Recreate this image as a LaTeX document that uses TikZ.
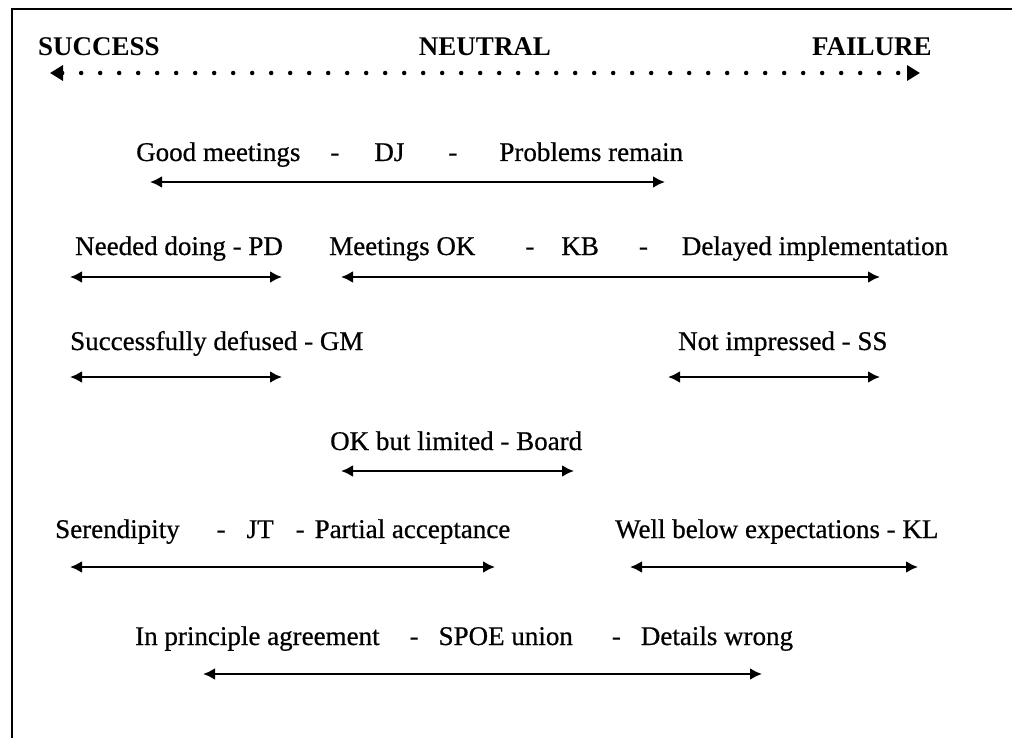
\documentclass[tikz,border=0pt]{standalone}
\usepackage{fontspec}
\setmainfont{Liberation Serif}
\newfontfamily\scanfont[FakeBold=0.6]{Liberation Serif}
\usetikzlibrary{arrows.meta}

\tikzset{
  lbl/.style={anchor=base west, inner sep=0pt, font=\scanfont\fontsize{27}{30}\selectfont},
  hdr/.style={anchor=base west, inner sep=0pt, font=\bfseries\fontsize{27}{32}\selectfont},
  spanarrow/.style={{Latex[length=12pt,width=12pt]}-{Latex[length=12pt,width=12pt]}, line width=2.6pt},
  dotscale/.style={{Triangle[length=13pt,width=15pt]}-{Triangle[length=13pt,width=15pt]}, line width=4.5pt,
    line cap=round, dash pattern=on 0pt off 19pt},
}

\begin{document}
\begin{tikzpicture}[x=1pt,y=-1pt]
\useasboundingbox (0,0) rectangle (1012,738);
% frame
\draw[line width=2.5pt] (12,738) -- (12,9) -- (1012,9);

% scale
\node[hdr] (succ) at (38,56) {SUCCESS};
\node[hdr, anchor=base] (neut) at (485,56) {NEUTRAL};
\node[hdr] (fail) at (812,56) {FAILURE};
\coordinate (sl) at (50,73);
\coordinate (sr) at (920,73);
\draw[dotscale] (sl) -- (sr);

% DJ
\node[lbl] (dj) at (136,161) {Good meetings\hspace{30pt}-\hspace{35pt}DJ\hspace{44pt}-\hspace{42pt}Problems remain};
\coordinate (dj-l) at (150,182);
\coordinate (dj-r) at (665,182);
\draw[spanarrow] (dj-l) -- (dj-r);

% PD
\node[lbl] (pd) at (75,255) {Needed doing - PD};
\coordinate (pd-l) at (70,277);
\coordinate (pd-r) at (282,277);
\draw[spanarrow] (pd-l) -- (pd-r);

% KB
\node[lbl] (kb) at (329,255) {Meetings OK\hspace{50pt}-\hspace{27pt}KB\hspace{40pt}-\hspace{34pt}Delayed implementation};
\coordinate (kb-l) at (341,277);
\coordinate (kb-r) at (880,277);
\draw[spanarrow] (kb-l) -- (kb-r);

% GM
\node[lbl] (gm) at (70,350) {Successfully defused - GM};
\coordinate (gm-l) at (70,377);
\coordinate (gm-r) at (282,377);
\draw[spanarrow] (gm-l) -- (gm-r);

% SS
\node[lbl] (ss) at (678,350) {Not impressed - SS};
\coordinate (ss-l) at (668,377);
\coordinate (ss-r) at (880,377);
\draw[spanarrow] (ss-l) -- (ss-r);

% Board
\node[lbl] (brd) at (330,450) {OK but limited - Board};
\coordinate (brd-l) at (341,471);
\coordinate (brd-r) at (574,471);
\draw[spanarrow] (brd-l) -- (brd-r);

% JT
\node[lbl] (jt) at (55,538) {Serendipity\hspace{37pt}-\hspace{21pt}JT\hspace{22pt}-\hspace{10pt}Partial acceptance};
\coordinate (jt-l) at (70,567);
\coordinate (jt-r) at (495,567);
\draw[spanarrow] (jt-l) -- (jt-r);

% KL
\node[lbl] (kl) at (615,538) {Well below expectations - KL};
\coordinate (kl-l) at (630,567);
\coordinate (kl-r) at (918,567);
\draw[spanarrow] (kl-l) -- (kl-r);

% SPOE
\node[lbl] (spoe) at (135,645) {In principle agreement\hspace{30pt}-\hspace{20pt}SPOE union\hspace{39pt}-\hspace{20pt}Details wrong};
\coordinate (spoe-l) at (203,674);
\coordinate (spoe-r) at (762,674);
\draw[spanarrow] (spoe-l) -- (spoe-r);
\end{tikzpicture}
\end{document}
